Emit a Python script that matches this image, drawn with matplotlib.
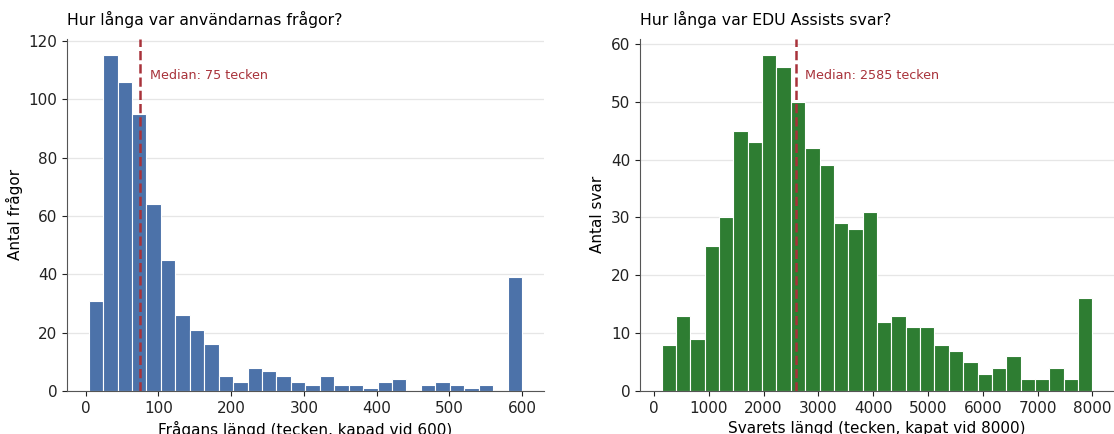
import numpy as np
import matplotlib
matplotlib.use('Agg')
import matplotlib.pyplot as plt

# Frågornas längd (30 staplar, 4..600 tecken)
q_lo, q_hi = 4, 600
q_counts = [31, 115, 106, 95, 64, 45, 26, 21, 16, 5,
            3, 8, 7, 5, 3, 2, 5, 2, 2, 1,
            3, 4, 0, 2, 3, 2, 1, 2, 0, 39]
q_median = 75

# Svarens längd (30 staplar, 140..8000 tecken)
a_lo, a_hi = 140, 8000
a_counts = [8, 13, 9, 25, 30, 45, 43, 58, 56, 50,
            42, 39, 29, 28, 31, 12, 13, 11, 11, 8,
            7, 5, 3, 4, 6, 2, 2, 4, 2, 16]
a_median = 2585

MED_COLOR = '#a8323a'

fig = plt.figure(figsize=(11.14, 4.34), dpi=100)
ax1 = fig.add_axes([0.0601, 0.099, 0.428, 0.812])
ax2 = fig.add_axes([0.5745, 0.099, 0.4255, 0.812])


def draw(ax, lo, hi, counts, median, color, title, xlabel, ylabel, xticks, med_y):
    edges = np.linspace(lo, hi, len(counts) + 1)
    centers = (edges[:-1] + edges[1:]) / 2
    ax.hist(centers, bins=edges, weights=counts, color=color,
            edgecolor='white', linewidth=0.8, zorder=2)
    ax.axvline(median, color=MED_COLOR, linestyle='--', linewidth=1.8, zorder=3)
    ax.annotate(f'Median: {median} tecken', xy=(median, med_y),
                xytext=(7, 0), textcoords='offset points',
                color=MED_COLOR, fontsize=9.2, va='center')
    ax.set_title(title, fontsize=11.3, loc='left', pad=9.5)
    ax.set_xlabel(xlabel, fontsize=11)
    ax.set_ylabel(ylabel, fontsize=11)
    ax.set_xticks(xticks)
    ax.tick_params(labelsize=11, colors='#222222')
    ax.grid(axis='y', color='#e6e6e6', linewidth=0.9, zorder=0)
    ax.set_axisbelow(True)
    for s in ['top', 'right']:
        ax.spines[s].set_visible(False)
    for s in ['left', 'bottom']:
        ax.spines[s].set_color('#555555')


draw(ax1, q_lo, q_hi, q_counts, q_median, '#4c72a9',
     'Hur långa var användarnas frågor?',
     'Frågans längd (tecken, kapad vid 600)', 'Antal frågor',
     [0, 100, 200, 300, 400, 500, 600], 108)
draw(ax2, a_lo, a_hi, a_counts, a_median, '#2e7d32',
     'Hur långa var EDU Assists svar?',
     'Svarets längd (tecken, kapat vid 8000)', 'Antal svar',
     [0, 1000, 2000, 3000, 4000, 5000, 6000, 7000, 8000], 54.5)

fig.savefig('out.png', dpi=100)
